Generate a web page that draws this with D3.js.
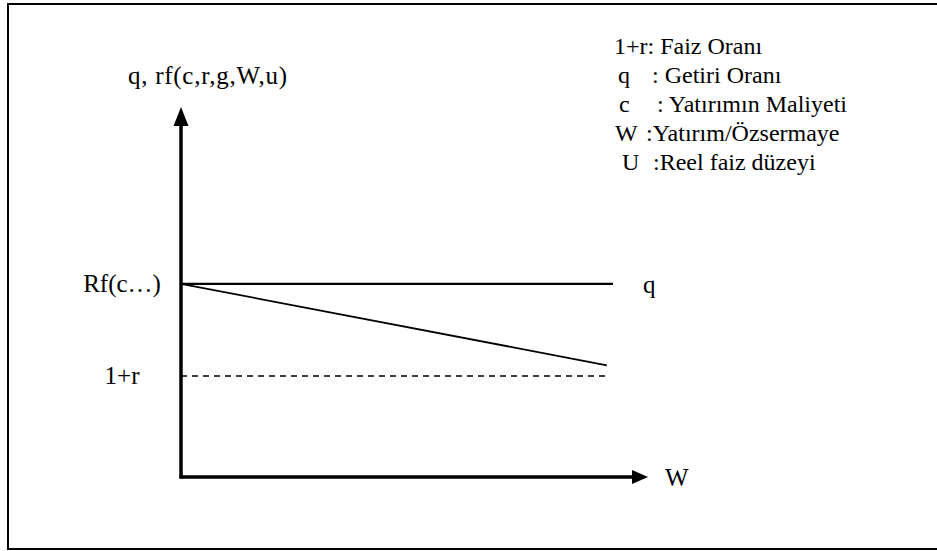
<!DOCTYPE html>
<html>
<head>
<meta charset="utf-8">
<script src="https://cdn.jsdelivr.net/npm/d3@7"></script>
<style>
body { margin: 0; background: #fff; }
text { font-family: "Liberation Serif", "Times New Roman", serif; fill: #000; }
</style>
</head>
<body>
<div class="diagram"></div>
<script>
// values (axes run 0..100)
const qLine = [[0, 52.2], [92.5, 52.2]];
const rfLine = [[0, 52.2], [91.2, 30.2]];
const rLine = [[0, 27.3], [91.6, 27.3]];
const tickValues = [52.2, 27.3];
const tickLabels = ["Rf(c…)", "1+r"];
const legendSymbols = ["1+r:", "q", "c", "W", "U"];
const legendTexts = [" Faiz Oranı", ": Getiri Oranı", ": Yatırımın Maliyeti", ":Yatırım/Özsermaye", ":Reel faiz düzeyi"];

function drawing() {
	const width = 937;
	const height = 551;
	const svg = d3.select('.diagram')
		.append('svg')
		.attr('width', width)
		.attr('height', height)

	// outer frame (right side runs off the page like in the scan)
	svg.append('rect')
		.attr('x', 8).attr('y', 4)
		.attr('width', 934).attr('height', 545)
		.attr('fill', 'none').attr('stroke', '#000').attr('stroke-width', 2)

	const x = d3.scaleLinear().domain([0, 100]).range([181, 648]);
	const y = d3.scaleLinear().domain([0, 100]).range([477, 107]);

	const line = d3.line().x(d => x(d[0])).y(d => y(d[1]));

	// axes with arrow heads
	svg.append('path')
		.attr('d', `M${x(0)},${y(0) + 1.5}V${y(100) + 16}`)
		.attr('stroke', '#000').attr('stroke-width', 3.5).attr('fill', 'none')
	svg.append('path')
		.attr('d', `M${x(0)},${y(100)}L${x(0) - 7.5},${y(100) + 19}L${x(0) + 7.5},${y(100) + 19}Z`)
		.attr('fill', '#000')
	svg.append('path')
		.attr('d', `M${x(0) - 1.5},${y(0)}H${x(100) - 14}`)
		.attr('stroke', '#000').attr('stroke-width', 3.5).attr('fill', 'none')
	svg.append('path')
		.attr('d', `M${x(100)},${y(0)}L${x(100) - 16},${y(0) - 7}L${x(100) - 16},${y(0) + 7}Z`)
		.attr('fill', '#000')

	svg.append('path').attr('d', line(qLine))
		.attr('stroke', '#000').attr('stroke-width', 2.2).attr('fill', 'none')
	svg.append('path').attr('d', line(rfLine))
		.attr('stroke', '#000').attr('stroke-width', 1.8).attr('fill', 'none')
	svg.append('path').attr('d', line(rLine))
		.attr('stroke', '#000').attr('stroke-width', 1.3).attr('fill', 'none')
		.attr('stroke-dasharray', '6,5')

	// value labels on the left
	svg.selectAll('text.tick')
		.data(tickValues)
		.enter()
		.append('text')
		.attr('class', 'tick')
		.attr('x', 122)
		.attr('y', d => y(d) + 8)
		.attr('text-anchor', 'middle')
		.attr('font-size', 25)
		.text((d, i) => tickLabels[i])

	// axis titles
	svg.append('text').attr('x', 128).attr('y', 84).attr('font-size', 25)
		.attr('textLength', 159)
		.text('q, rf(c,r,g,W,u)')
	svg.append('text').attr('x', 665).attr('y', 486).attr('font-size', 25)
		.text('W')
	svg.append('text').attr('x', 643).attr('y', y(qLine[1][1]) + 9).attr('font-size', 25)
		.text('q')

	// legend
	const symX = [614, 618, 619, 615, 622];
	const txtX = [null, 652, 657, 646, 653];
	const leg = svg.append('g');
	legendSymbols.forEach((s, i) => {
		const t = leg.append('text')
			.attr('x', symX[i])
			.attr('y', 54 + i * 29)
			.attr('font-size', 24)
			.attr('xml:space', 'preserve')
		if (i === 0) {
			t.text(s + legendTexts[i]);
		} else {
			t.text(s);
			leg.append('text')
				.attr('x', txtX[i])
				.attr('y', 54 + i * 29)
				.attr('font-size', 24)
				.text(legendTexts[i]);
		}
	});
}

drawing()
</script>
</body>
</html>
